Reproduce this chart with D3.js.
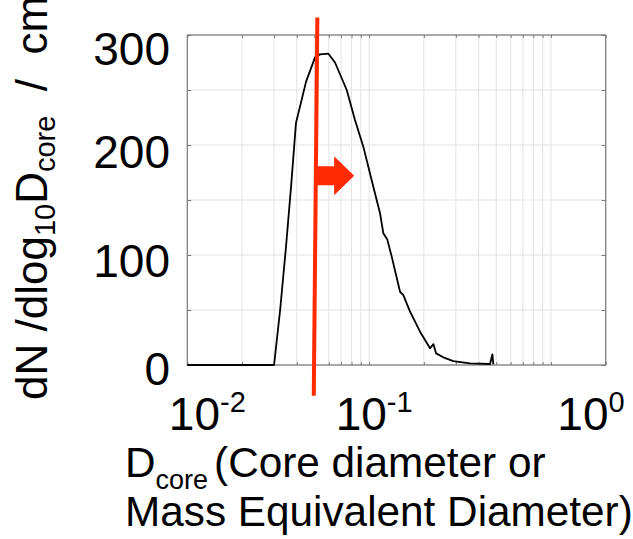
<!DOCTYPE html>
<html>
<head>
<meta charset="utf-8">
<script src="https://cdn.jsdelivr.net/npm/d3@7"></script>
<style>
  html, body { margin: 0; padding: 0; background: #fff; }
  svg { display: block; }
  text { font-family: "Liberation Sans", Arial, Helvetica, sans-serif; fill: #000; }
</style>
</head>
<body>
<svg id="chart" width="633" height="539"></svg>
<script>
// core diameter (um) and dN/dlog10Dcore
const dCore = [0.0100, 0.0300, 0.0324, 0.0349, 0.0372, 0.0396, 0.0450, 0.0504, 0.0537, 0.0597,
  0.0649, 0.0753, 0.0836, 0.0929, 0.1033, 0.1148, 0.1197, 0.1259, 0.1331, 0.1479,
  0.1542, 0.1679, 0.1905, 0.2163, 0.2256, 0.2334, 0.2559, 0.2904, 0.3589, 0.4624,
  0.4762, 0.4822];
const dNdlogD = [0, 0, 50, 107.5, 162, 220, 257.6, 279.7, 282.4, 283,
  275, 250, 222.7, 198.5, 168, 138, 119.7, 114, 98.5, 66.6,
  63.6, 48.5, 30.3, 15.2, 19, 10.6, 7, 3.6, 1.5, 0.9,
  9.7, 0.6];

const yGridValues = [0, 50, 100, 150, 200, 250, 300];
const yTickLabels = [0, 100, 200, 300];
const xTickExponents = [-2, -1, 0];

// red cutoff marker (slightly leaning, as drawn on the figure)
const cutoffTop = 0.0519, cutoffBottom = 0.0496;
const cutoffYTop = 316, cutoffYBottom = -28;
const arrowAt = [0.0508, 172];

const width = 633, height = 539;
const plot = { left: 187.3, right: 605.7, top: 35, bottom: 365 };

const svg = d3.select('#chart');

const x = d3.scaleLog().domain([0.01, 2]).range([plot.left, plot.right]);
const y = d3.scaleLinear().domain([0, 300]).range([plot.bottom, plot.top]);

// minor + major log positions for grid
const xGridValues = [];
[0.01, 0.1, 1].forEach(dec => {
  for (let k = 1; k <= 9; k++) {
    const v = dec * k;
    if (v <= 2) xGridValues.push(+v.toPrecision(3));
  }
});

// grid
const grid = svg.append('g').attr('stroke', '#e3e3e3').attr('stroke-width', 1);
grid.selectAll('.gx').data(xGridValues).enter().append('line')
  .attr('x1', d => x(d)).attr('x2', d => x(d))
  .attr('y1', plot.top).attr('y2', plot.bottom);
grid.selectAll('.gy').data(yGridValues).enter().append('line')
  .attr('x1', plot.left).attr('x2', plot.right)
  .attr('y1', d => y(d)).attr('y2', d => y(d));

// inward ticks on all sides
const tickColor = '#7a7a7a';
function styleAxis(g) {
  g.select('.domain').remove();
  g.selectAll('.tick line').attr('stroke', tickColor);
}
svg.append('g').attr('transform', `translate(${plot.left},0)`)
  .call(d3.axisLeft(y).tickValues(yGridValues).tickSize(-4).tickFormat(''))
  .call(styleAxis);
svg.append('g').attr('transform', `translate(${plot.right},0)`)
  .call(d3.axisRight(y).tickValues(yGridValues).tickSize(-4).tickFormat(''))
  .call(styleAxis);
svg.append('g').attr('transform', `translate(0,${plot.bottom})`)
  .call(d3.axisBottom(x).tickValues(xGridValues).tickSize(-3).tickFormat(''))
  .call(styleAxis);
svg.append('g').attr('transform', `translate(0,${plot.top})`)
  .call(d3.axisTop(x).tickValues(xGridValues).tickSize(-3).tickFormat(''))
  .call(styleAxis);

// frame
svg.append('rect')
  .attr('x', plot.left).attr('y', plot.top)
  .attr('width', plot.right - plot.left).attr('height', plot.bottom - plot.top)
  .attr('fill', 'none').attr('stroke', '#7a7a7a').attr('stroke-width', 1.2);

// size distribution curve
const points = dCore.map((d, i) => [d, dNdlogD[i]]);
const line = d3.line().x(d => x(d[0])).y(d => y(d[1]));
svg.append('path')
  .datum(points)
  .attr('fill', 'none')
  .attr('stroke', '#000')
  .attr('stroke-width', 1.8)
  .attr('stroke-linejoin', 'round')
  .attr('d', line);

// red cutoff line and arrow
const red = '#ff2a00';
svg.append('line')
  .attr('x1', x(cutoffTop)).attr('y1', y(cutoffYTop))
  .attr('x2', x(cutoffBottom)).attr('y2', y(cutoffYBottom))
  .attr('stroke', red).attr('stroke-width', 4);

const ax = x(arrowAt[0]), ay = y(arrowAt[1]);
const arrowPath = d3.path();
arrowPath.moveTo(ax, ay - 9.5);
arrowPath.lineTo(ax + 18.5, ay - 9.5);
arrowPath.lineTo(ax + 18.5, ay - 19.5);
arrowPath.lineTo(ax + 38.5, ay);
arrowPath.lineTo(ax + 18.5, ay + 19.5);
arrowPath.lineTo(ax + 18.5, ay + 9.5);
arrowPath.lineTo(ax, ay + 9.5);
arrowPath.closePath();
svg.append('path').attr('d', arrowPath.toString()).attr('fill', red);

// y tick labels (placed a bit below their gridlines as in the figure)
const yLabelDy = { 0: 20, 100: 22, 200: 23, 300: 30 };
svg.selectAll('.ylab').data(yTickLabels).enter().append('text')
  .attr('x', 170)
  .attr('y', d => y(d) + yLabelDy[d])
  .attr('text-anchor', 'end')
  .attr('font-size', 46)
  .text(d => d);

// x tick labels 10^n
const xLabelDx = { '-2': 20, '-1': 5, '0': 40 };
xTickExponents.forEach(e => {
  const t = svg.append('text')
    .attr('x', x(Math.pow(10, e)) + xLabelDx[e])
    .attr('y', 430)
    .attr('text-anchor', 'middle')
    .attr('font-size', 46);
  t.append('tspan').text('10');
  t.append('tspan').attr('font-size', 29).attr('dy', -18).text(e === 0 ? '0' : '-' + Math.abs(e));
});

// x axis title
const xt1 = svg.append('text').attr('x', 125).attr('y', 477).attr('font-size', 42.3);
xt1.append('tspan').text('D');
xt1.append('tspan').attr('font-size', 27).attr('dy', 12).text('core');
xt1.append('tspan').attr('dy', -12).attr('dx', 6).text('(Core diameter or');
svg.append('text').attr('x', 125).attr('y', 526).attr('font-size', 42.3)
  .text('Mass Equivalent Diameter)');

// y axis title (rotated, runs off the top edge)
const yt = svg.append('text')
  .attr('transform', 'translate(47,400) rotate(-90)')
  .attr('font-size', 44)
  .attr('xml:space', 'preserve')
  .style('white-space', 'pre');
yt.append('tspan').text('dN /dlog');
yt.append('tspan').attr('font-size', 29).attr('dy', 8).text('10');
yt.append('tspan').attr('dy', -8).text('D');
yt.append('tspan').attr('font-size', 29).attr('dy', 8).text('core');
yt.append('tspan').attr('dy', -8).text('  /  cm');
yt.append('tspan').attr('font-size', 29).attr('dy', -18).text('-3');
</script>
</body>
</html>
